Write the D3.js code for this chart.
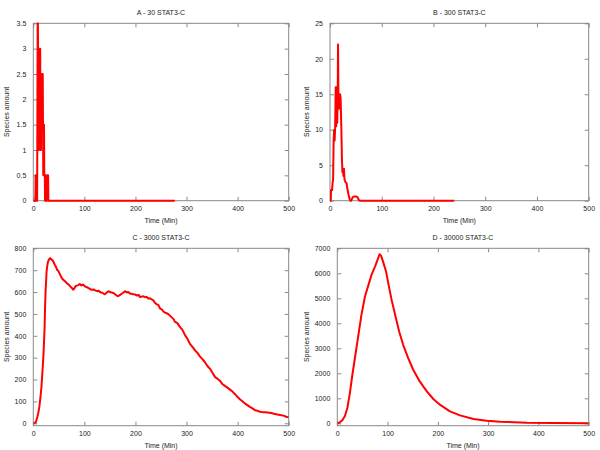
<!DOCTYPE html>
<html><head><meta charset="utf-8">
<script src="https://cdn.jsdelivr.net/npm/d3@7"></script>
<style>body{margin:0;background:#fff}svg{display:block}</style>
</head><body><svg id="c" width="600" height="450"></svg>
<script>
// Panel titles
const titles = ["A - 30 STAT3-C","B - 300 STAT3-C","C - 3000 STAT3-C","D - 30000 STAT3-C"];
const xTicks = [0,100,200,300,400,500];
const yTicksA = [0,0.5,1,1.5,2,2.5,3,3.5];
const yTicksB = [0,5,10,15,20,25];
const yTicksC = [0,100,200,300,400,500,600,700,800];
const yTicksD = [0,1000,2000,3000,4000,5000,6000,7000];

// Series A (time, amount)
const timeA = [0,4,4.5,7,7.5,8.5,9,10.5,11,12,12.5,13.5,14,15,15.5,16.5,17,18,18.5,19.5,20,21,21.5,22.5,23,24,24.5,26.5,27,29,29.5,277];
const valA  = [0,0,0.5,0.5,0,3.5,3.5,1,2.5,2.5,3,3,1,1,2.5,2.5,1.5,1.5,2.5,0.5,1.5,1.5,0.5,0.5,0,0.5,0,0,0.5,0.5,0,0];

// Series B
const timeB = [0,1.5,2,4,5,6,7,8,9,10,11,12,13,14,15,15.5,16.5,17.5,18.5,19.5,20.5,22,23,24,25,26,27,28,29,30,32,34,36,38,39,41,44,47,50,53,55,57,240];
const valB  = [0,0,1.5,1.5,2.5,3,8.5,10,8.5,10.5,16,10.5,16,11,16,22,13,15,13,15,14.5,10,6,4,4.5,3.5,4.5,3,2.8,2.6,2.5,1.5,0.8,0.2,0,0,0.5,0.6,0.6,0.5,0.2,0,0];

// Series C
const timeC = [0,3,5,8,10,12,14,16,18,20,22,23,24,26,28,29,31,33,34,36,38,40,42,45,47,49,52,55,58,62,66,70,72,75,78,80,83,85,88,91,94,97,101,105,108,111,114,118,121,125,128,131,135,138,140,144,147,150,153,157,160,163,166,169,173,176,180,183,186,189,192,196,199,203,206,209,212,216,219,222,225,228,232,235,238,241,245,248,252,255,258,262,265,268,272,275,277,282,287,292,297,302,307,312,317,322,326,331,336,341,346,351,356,361,366,370,375,380,385,390,395,400,405,410,414,419,424,429,434,439,444,449,454,458,463,468,473,478,483,490,495,500];
const valC  = [0,2,5,30,50,78,120,166,240,317,430,528,600,694,730,740,750,755,752,748,745,735,725,712,700,697,682,667,657,649,640,632,627,620,611,615,628,629,632,637,630,634,626,622,618,614,610,612,608,604,606,599,597,592,590,598,604,600,598,596,590,584,581,586,592,597,604,598,600,593,592,590,589,584,587,577,579,581,576,578,570,572,566,562,551,545,540,525,520,510,506,502,498,491,482,475,465,458,441,427,403,385,362,348,332,320,306,293,279,262,249,230,211,203,193,180,171,163,154,145,133,120,109,100,91,83,75,68,60,57,53,51,50,49,48,46,42,40,38,35,30,27];

// Series D
const timeD = [0,5,10,15,20,25,30,36,42,48,55,62,68,75,80,84,87,91,97,102,108,115,123,131,141,151,164,178,191,204,224,244,271,297,324,377,430,500];
const valD  = [0,40,120,280,612,1211,1943,2742,3540,4339,5071,5536,5935,6268,6535,6761,6707,6468,6069,5536,4937,4339,3673,3141,2608,2143,1677,1278,972,745,479,319,173,106,67,27,13,5];

const panels = [
  {title:titles[0], t:timeA, v:valA, yTicks:yTicksA, yDom:[0,3.5], box:[33.3,288.7,23.3,200.7]},
  {title:titles[1], t:timeB, v:valB, yTicks:yTicksB, yDom:[0,25], box:[330,588.7,23.3,200.7]},
  {title:titles[2], t:timeC, v:valC, yTicks:yTicksC, yDom:[-11,800], box:[33.3,288.7,248.3,425.7]},
  {title:titles[3], t:timeD, v:valD, yTicks:yTicksD, yDom:[-95,7000], box:[337.3,588.7,248.3,425.7]}
];

const svg = d3.select("#c");
const font = "'Liberation Sans', Arial, sans-serif";
const frameCol = "#888";
const textCol = "#222";

panels.forEach(p => {
  const [l,r,t,b] = p.box;
  const x = d3.scaleLinear().domain([0,500]).range([l,r]);
  const y = d3.scaleLinear().domain(p.yDom).range([b,t]);
  const g = svg.append("g");

  // frame
  g.append("rect").attr("x",l).attr("y",t).attr("width",r-l).attr("height",b-t)
    .attr("fill","none").attr("stroke",frameCol).attr("stroke-width",1);

  // axes with inward ticks, mirrored
  const tl = 4;
  const ax = g.append("g").attr("transform",`translate(0,${b})`)
    .call(d3.axisBottom(x).tickValues(xTicks).tickSize(-tl).tickPadding(5).tickFormat(d3.format("d")));
  const axT = g.append("g").attr("transform",`translate(0,${t})`)
    .call(d3.axisTop(x).tickValues(xTicks).tickSize(-tl).tickFormat(""));
  const ay = g.append("g").attr("transform",`translate(${l},0)`)
    .call(d3.axisLeft(y).tickValues(p.yTicks).tickSize(-tl).tickPadding(7).tickFormat(d=>String(d)));
  const ayR = g.append("g").attr("transform",`translate(${r},0)`)
    .call(d3.axisRight(y).tickValues(p.yTicks).tickSize(-tl).tickFormat(""));
  [ax,axT,ay,ayR].forEach(a=>{
    a.select(".domain").remove();
    a.selectAll(".tick line").attr("stroke",frameCol);
    a.selectAll("text").attr("font-family",font).attr("font-size",7).attr("fill",textCol);
  });

  // data line (clipped to frame, with a little room for the stroke)
  const id = "clip" + Math.round(l) + Math.round(t);
  svg.append("clipPath").attr("id", id).append("rect")
    .attr("x", l).attr("y", t - 1).attr("width", r - l).attr("height", b - t + 2.2);
  const pts = p.t.map((tt,i)=>[tt,p.v[i]]);
  g.append("path").datum(pts)
    .attr("clip-path", `url(#${id})`)
    .attr("d", d3.line().x(d=>x(d[0])).y(d=>y(d[1])))
    .attr("fill","none").attr("stroke","#ff0000").attr("stroke-width",2)
    .attr("stroke-linejoin","round");

  // title
  g.append("text").attr("x",(l+r)/2).attr("y",t-8.5).attr("text-anchor","middle")
    .attr("font-family",font).attr("font-size",7).attr("fill",textCol).text(p.title);
  // x label
  g.append("text").attr("x",(l+r)/2).attr("y",b+22.5).attr("text-anchor","middle")
    .attr("font-family",font).attr("font-size",7).attr("fill",textCol).text("Time (Min)");
  // y label
  const lx = l < 100 ? 9 : 309;
  g.append("text").attr("transform",`translate(${lx},${(t+b)/2}) rotate(-90)`)
    .attr("text-anchor","middle")
    .attr("font-family",font).attr("font-size",7).attr("fill",textCol).text("Species amount");
});
</script>
</body></html>
